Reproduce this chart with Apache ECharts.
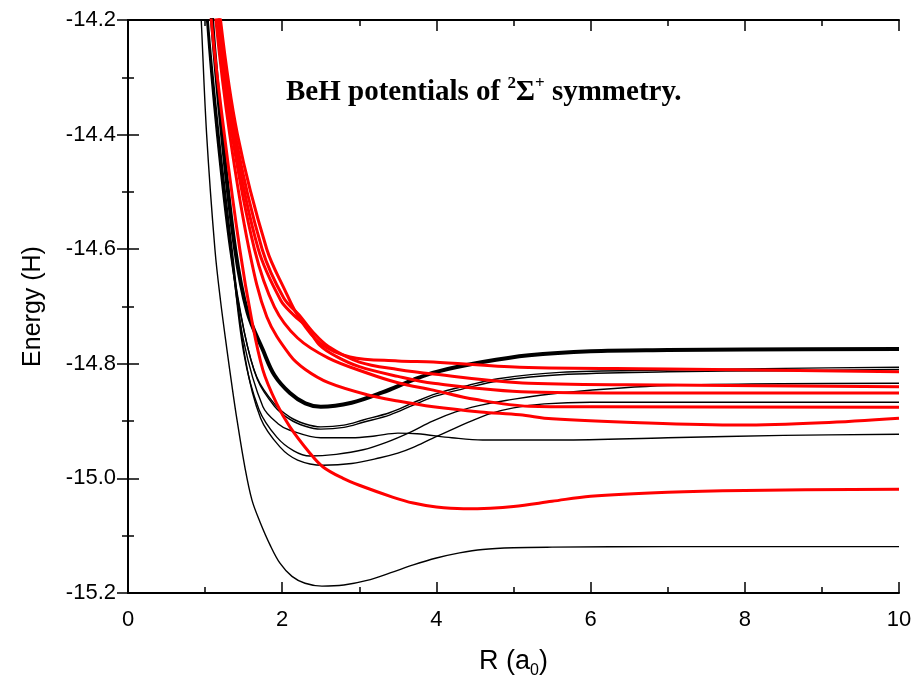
<!DOCTYPE html>
<html>
<head>
<meta charset="utf-8">
<script src="https://cdn.jsdelivr.net/npm/echarts@6/dist/echarts.min.js"></script>
<style>
  html, body { margin: 0; padding: 0; background: #fff; }
  #chart { width: 916px; height: 685px; }
</style>
</head>
<body>
<div id="chart"></div>
<script>
// 坐标轴刻度
const xTicks = [0, 2, 4, 6, 8, 10];
const yTicks = [-15.2, -15.0, -14.8, -14.6, -14.4, -14.2];

// 黑色细线 (R, E)
const blackGround = [[0.92, -14.12], [0.95, -14.2], [1.02, -14.4], [1.128, -14.601], [1.2, -14.69], [1.284, -14.776], [1.35, -14.84], [1.414, -14.898], [1.518, -14.982], [1.608, -15.038], [1.712, -15.076], [1.842, -15.116], [1.971, -15.148], [2.127, -15.171], [2.296, -15.183], [2.516, -15.188], [2.8, -15.186], [3.1, -15.178], [3.4, -15.165], [3.7, -15.151], [4.0, -15.139], [4.3, -15.13], [4.6, -15.124], [5.0, -15.121], [5.5, -15.12], [7.0, -15.119], [10.0, -15.119]];
const blackA1 = [[0.99, -14.1], [1.02, -14.2], [1.15, -14.4], [1.32, -14.6], [1.5, -14.74], [1.67, -14.823], [1.9, -14.87], [2.1, -14.893], [2.3, -14.905], [2.5, -14.91], [2.8, -14.907], [3.05, -14.898], [3.4, -14.885], [3.7, -14.868], [4.0, -14.852], [4.4, -14.838], [4.8, -14.826], [5.6, -14.815], [7.0, -14.811], [8.5, -14.808], [10.0, -14.806]];
const blackA2 = [[1.0, -14.1], [1.03, -14.2], [1.16, -14.4], [1.33, -14.6], [1.51, -14.745], [1.68, -14.828], [1.9, -14.874], [2.1, -14.897], [2.3, -14.909], [2.5, -14.914], [2.8, -14.911], [3.05, -14.902], [3.4, -14.889], [3.7, -14.872], [4.0, -14.856], [4.4, -14.842], [4.8, -14.83], [5.6, -14.819], [7.0, -14.814], [8.5, -14.812], [10.0, -14.81]];
const blackD = [[1.0, -14.1], [1.03, -14.2], [1.17, -14.4], [1.33, -14.6], [1.5, -14.76], [1.75, -14.875], [1.95, -14.905], [2.1, -14.916], [2.5, -14.929], [2.9, -14.929], [3.2, -14.926], [3.5, -14.921], [3.75, -14.922], [4.2, -14.929], [4.6, -14.933], [5.6, -14.933], [7.0, -14.929], [8.5, -14.925], [10.0, -14.923]];
const blackB = [[1.0, -14.1], [1.03, -14.2], [1.17, -14.4], [1.34, -14.6], [1.5, -14.78], [1.7, -14.88], [1.93, -14.928], [2.15, -14.952], [2.36, -14.961], [2.7, -14.958], [3.05, -14.95], [3.35, -14.937], [3.65, -14.92], [3.95, -14.9], [4.25, -14.884], [4.55, -14.873], [4.9, -14.864], [5.6, -14.851], [7.0, -14.838], [10.0, -14.834]];
const blackC = [[1.01, -14.1], [1.04, -14.2], [1.18, -14.4], [1.35, -14.6], [1.52, -14.79], [1.72, -14.895], [1.97, -14.945], [2.2, -14.968], [2.53, -14.977], [2.9, -14.974], [3.27, -14.964], [3.5, -14.956], [3.7, -14.946], [3.95, -14.93], [4.2, -14.915], [4.45, -14.9], [4.7, -14.887], [5.0, -14.877], [5.4, -14.87], [6.0, -14.867], [10.0, -14.867]];

// 黑色粗线
const blackThick = [[1.06, -14.1], [1.09, -14.2], [1.22, -14.4], [1.39, -14.6], [1.55, -14.71], [1.75, -14.776], [1.9, -14.82], [2.1, -14.851], [2.3, -14.869], [2.5, -14.875], [2.9, -14.868], [3.3, -14.85], [3.7, -14.828], [4.0, -14.814], [4.6, -14.797], [5.2, -14.785], [6.0, -14.778], [7.0, -14.776], [8.0, -14.775], [10.0, -14.774]];

// 红线
const red1 = [[1.16, -14.1], [1.2, -14.2], [1.42, -14.4], [1.8, -14.6], [2.03, -14.67], [2.22, -14.72], [2.49, -14.764], [2.88, -14.788], [3.5, -14.795], [3.96, -14.797], [5.08, -14.806], [7.0, -14.809], [10.0, -14.814]];
const red2 = [[1.15, -14.1], [1.19, -14.2], [1.39, -14.4], [1.74, -14.6], [2.02, -14.685], [2.22, -14.715], [2.4, -14.745], [2.6, -14.77], [3.0, -14.797], [3.5, -14.81], [3.96, -14.818], [5.2, -14.834], [7.0, -14.837], [10.0, -14.84]];
const red3 = [[1.14, -14.1], [1.18, -14.2], [1.37, -14.4], [1.69, -14.6], [1.98, -14.689], [2.15, -14.715], [2.32, -14.736], [2.49, -14.768], [2.7, -14.787], [3.0, -14.805], [3.5, -14.822], [3.96, -14.834], [5.2, -14.849], [7.0, -14.851], [10.0, -14.851]];
const red4 = [[1.13, -14.1], [1.17, -14.2], [1.35, -14.4], [1.64, -14.6], [1.9, -14.701], [2.2, -14.755], [2.6, -14.79], [3.1, -14.816], [3.5, -14.833], [3.96, -14.846], [4.5, -14.862], [5.2, -14.874], [6.0, -14.875], [10.0, -14.876]];
const red5 = [[1.1, -14.1], [1.14, -14.2], [1.32, -14.4], [1.57, -14.6], [1.8, -14.718], [2.1, -14.785], [2.3, -14.81], [2.6, -14.833], [3.1, -14.854], [3.5, -14.865], [3.96, -14.875], [4.57, -14.884], [5.08, -14.889], [5.5, -14.896], [6.64, -14.903], [7.94, -14.907], [9.0, -14.903], [10.0, -14.895]];
const red6 = [[1.05, -14.1], [1.08, -14.2], [1.25, -14.4], [1.45, -14.6], [1.6, -14.72], [1.75, -14.811], [1.93, -14.87], [2.1, -14.91], [2.36, -14.956], [2.53, -14.98], [2.79, -15.0], [3.0, -15.012], [3.44, -15.033], [3.7, -15.043], [4.0, -15.05], [4.35, -15.053], [4.7, -15.052], [5.0, -15.049], [5.5, -15.04], [6.0, -15.031], [7.0, -15.024], [8.0, -15.021], [10.0, -15.019]];

const thinBlack = [blackGround, blackA1, blackA2, blackD, blackB, blackC];
const reds = [red1, red2, red3, red4, red5, red6];

const myChart = echarts.init(document.getElementById("chart"));

const sansFont = '"Liberation Sans", Arial, sans-serif';
const serifFont = '"Liberation Serif", "Times New Roman", serif';

function lineSeries(data, color, width, z) {
  return {
    type: "line",
    data: data,
    smooth: 0.35,
    showSymbol: false,
    symbol: "none",
    z: z,
    lineStyle: { color: color, width: width },
    emphasis: { disabled: true },
  };
}

// 公共轴样式
const axisLineStyle = { show: true, lineStyle: { color: "#000", width: 2 } };
const tickStyle = { show: true, inside: true, length: 11, lineStyle: { color: "#000", width: 1.5 } };
const minorTickStyle = { show: true, splitNumber: 2, length: 6, lineStyle: { color: "#000", width: 1.5 } };

let seriesConfig = [];
thinBlack.forEach((item) => seriesConfig.push(lineSeries(item, "#000", 1.4, 2)));
seriesConfig.push(lineSeries(blackThick, "#000", 4, 3));
reds.forEach((item) => seriesConfig.push(lineSeries(item, "#ff0000", 3, 4)));

const option = {
  animation: false,
  backgroundColor: "#fff",
  title: {
    text: "{b|BeH potentials of }{s|2}{b|Σ}{s|+}{b| symmetry.}",
    left: 281,
    top: 70,
    textStyle: {
      rich: {
        b: { fontFamily: serifFont, fontWeight: "bold", fontSize: 29, color: "#000", lineHeight: 36 },
        s: { fontFamily: serifFont, fontWeight: "bold", fontSize: 17, color: "#000", verticalAlign: "top", lineHeight: 36 },
      },
    },
  },
  grid: { left: 128, right: 17, top: 20, bottom: 92 },
  xAxis: [
    {
      type: "value",
      min: xTicks[0],
      max: xTicks[xTicks.length - 1],
      interval: 2,
      position: "bottom",
      axisLine: axisLineStyle,
      axisTick: tickStyle,
      minorTick: minorTickStyle,
      splitLine: { show: false },
      axisLabel: { fontFamily: sansFont, fontSize: 22, color: "#000", margin: 16 },
      name: "{n|R (a}{sub|0}{n|)}",
      nameLocation: "middle",
      nameGap: 52,
      nameTextStyle: {
        rich: {
          n: { fontFamily: sansFont, fontSize: 27, color: "#000", lineHeight: 34 },
          sub: { fontFamily: sansFont, fontSize: 16, color: "#000", verticalAlign: "bottom", lineHeight: 34 },
        },
      },
    },
    {
      type: "value",
      min: xTicks[0],
      max: xTicks[xTicks.length - 1],
      interval: 2,
      position: "top",
      axisLine: axisLineStyle,
      axisTick: tickStyle,
      minorTick: minorTickStyle,
      splitLine: { show: false },
      axisLabel: { show: false },
    },
  ],
  yAxis: [
    {
      type: "value",
      min: yTicks[0],
      max: yTicks[yTicks.length - 1],
      interval: 0.2,
      position: "left",
      axisLine: axisLineStyle,
      axisTick: tickStyle,
      minorTick: minorTickStyle,
      splitLine: { show: false },
      axisLabel: {
        fontFamily: sansFont,
        fontSize: 22,
        color: "#000",
        margin: 12,
        formatter: (v) => v.toFixed(1),
      },
      name: "Energy (H)",
      nameLocation: "middle",
      nameGap: 82,
      nameTextStyle: { fontFamily: sansFont, fontSize: 25, color: "#000" },
    },
    {
      type: "value",
      min: yTicks[0],
      max: yTicks[yTicks.length - 1],
      interval: 0.2,
      position: "right",
      axisLine: axisLineStyle,
      axisTick: tickStyle,
      minorTick: minorTickStyle,
      splitLine: { show: false },
      axisLabel: { show: false },
    },
  ],
  series: seriesConfig,
};

myChart.setOption(option);
</script>
</body>
</html>
